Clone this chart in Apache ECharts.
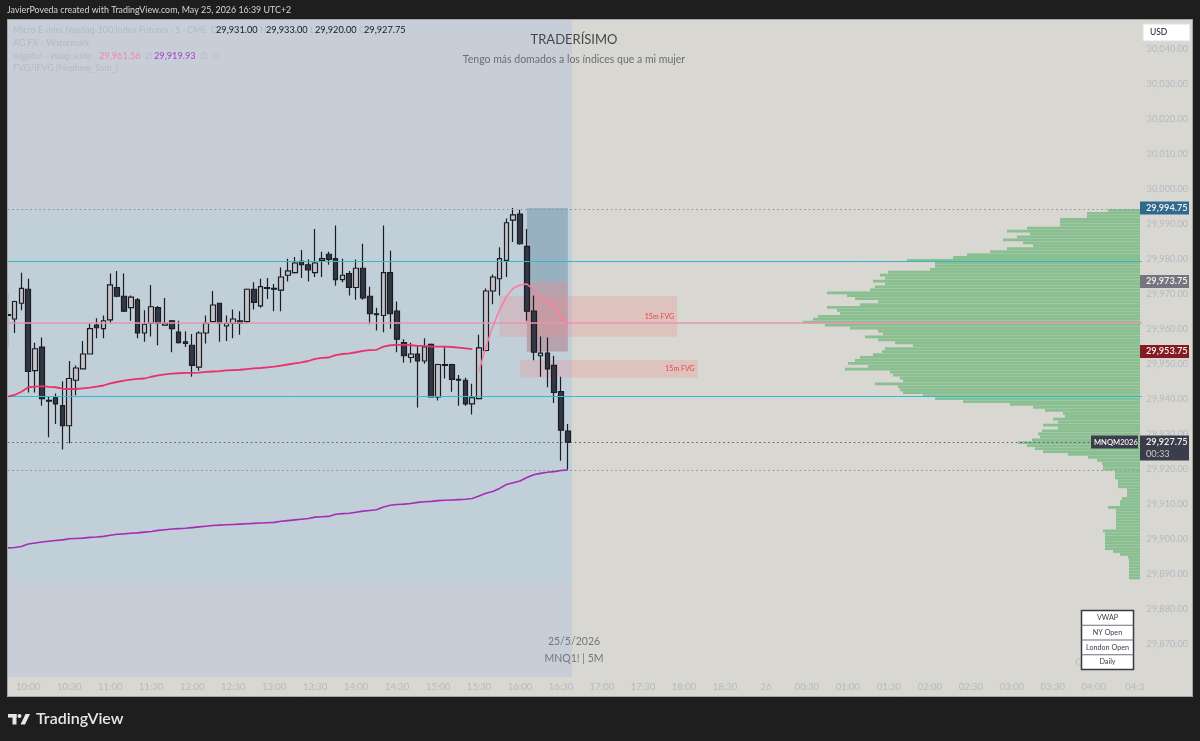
<!DOCTYPE html>
<html>
<head>
<meta charset="utf-8">
<title>MNQ1! 5M</title>
<script src="https://cdn.jsdelivr.net/npm/echarts@6/dist/echarts.min.js"></script>
<style>
  html, body { margin: 0; padding: 0; background: #1e1e1e; }
  #chart { width: 1200px; height: 741px; }
</style>
</head>
<body>
<div id="chart"></div>
<script>
const tickLabels = ["10:00","10:30","11:00","11:30","12:00","12:30","13:00","13:30","14:00","14:30","15:00","15:30","16:00","16:30","17:00","17:30","18:00","18:30","26","00:30","01:00","01:30","02:00","02:30","03:00","03:30","04:00","04:3"];

const opens = [29964.25,29963,29967.5,29971.5,29948.25,29955,29939.5,29940.5,29938.25,29932.5,29945.5,29948.75,29953,29961.25,29960.25,29962.75,29972,29969.5,29966.25,29968.5,29959,29961.75,29966.25,29961.25,29962.5,29959.25,29956.5,29955.5,29949.25,29959,29962.25,29967.5,29961,29961.75,29962.5,29962.25,29971.5,29966.75,29972,29971.75,29971.25,29975.5,29976.25,29979.5,29978.5,29976.25,29979.75,29981.5,29980.25,29974.25,29976,29972,29977.5,29969.5,29964.5,29964,29976.25,29965.25,29956.25,29952,29953,29951,29955.75,29940.75,29950,29950,29945.75,29945.5,29938.75,29940.25,29954,29971,29974.5,29979.75,29991.25,29993,29983.75,29965.25,29952.5,29953.25,29949.75,29942.25,29931];
const closes = [29964,29968,29971.75,29948,29954.5,29940.25,29939.75,29938.75,29932.5,29946,29949,29953,29960.25,29960.5,29962.5,29972.75,29969.5,29965.25,29969.25,29959,29961.5,29966.5,29961.75,29961.75,29960.25,29956.25,29956,29949.75,29959,29961.75,29967,29961.75,29961.75,29963,29961.75,29971.5,29967.75,29972.25,29971.75,29971.5,29975,29976.75,29979,29978.5,29977,29979,29980.25,29980,29974.25,29975.5,29972,29977.5,29969,29964.5,29964.25,29976.25,29964.5,29957.25,29952.5,29953,29951,29955,29940.75,29950,29949.75,29945.75,29945.5,29938.75,29940.5,29954.75,29971,29975,29980.25,29990.5,29992.75,29984.5,29965.25,29953.5,29953.25,29948.75,29942,29931.25,29927.75];
const lows = [29955,29959,29965.5,29942,29942,29938.25,29929.25,29933,29925.75,29927.5,29941.25,29948.75,29953,29957.5,29957.5,29961.75,29969.25,29965,29962.5,29957.5,29956.5,29958,29955.5,29961.25,29953.5,29956,29955,29946.5,29948.25,29956,29962,29956.5,29956.75,29957.5,29958.5,29961.75,29965.75,29966.25,29968.75,29965.25,29965.25,29973.75,29976,29974.75,29973.75,29975,29975,29978.5,29972.5,29973.5,29969.75,29968.5,29968.5,29961.5,29959.75,29959.25,29960.25,29953.5,29950.5,29950.5,29937.75,29950.25,29940.75,29939.75,29946,29942.25,29938.25,29938.25,29935.75,29940,29953.75,29967.25,29969.75,29975,29985,29984.25,29962.5,29951.25,29946.5,29943.5,29939,29922.5,29920];
const highs = [29970.25,29968.25,29976.25,29974.5,29956.25,29957.75,29941,29941.75,29945.25,29951,29949.75,29956.75,29961.75,29963.25,29964,29976,29976.75,29976,29969.75,29969,29965.5,29972.75,29966.75,29969,29962.75,29962.5,29959.5,29958.75,29959.5,29964,29971,29967.5,29964,29965.75,29965.25,29971.75,29973.5,29974.5,29974.75,29973,29977.75,29980.25,29980.75,29982.75,29980,29988.75,29982.25,29982.25,29989.75,29980.25,29976.75,29980,29984.5,29972.25,29966.25,29989.75,29982.5,29968,29957.25,29956.25,29955.25,29957.5,29956,29950.25,29955,29950.25,29947,29946.25,29944.5,29958.5,29971.75,29975.75,29983.5,29991.75,29994.75,29994.25,29988.75,29969.75,29958,29957.75,29952.5,29946.5,29933];

const nyVwap = [29940.8,29941.3,29942.2,29943.5,29943.7,29943.8,29943.6,29943.5,29943.1,29943,29943,29943.2,29943.4,29943.7,29944,29944.6,29945,29945.4,29945.7,29945.9,29946,29946.5,29946.9,29947.2,29947.4,29947.5,29947.6,29947.6,29947.7,29947.9,29948,29948.1,29948.3,29948.4,29948.5,29948.7,29948.9,29949,29949.2,29949.4,29949.7,29950,29950.3,29950.6,29951,29951.6,29951.9,29952,29952.7,29953,29953.2,29953.5,29953.9,29954.1,29954.2,29955.1,29955.5,29955.6,29955.6,29955.5,29955.3,29955.3,29955.1,29955.1,29955.1,29955,29954.8,29954.6,29954.4];
const sessionVwap = [29948.1,29955.1,29960.8,29965.6,29969.4,29971.8,29972.7,29973,29971.3,29969.4,29968.1,29966.9,29963.4,29961.6];
const sessionVwapStart = 69;
const dailyVwap = [29897.6,29897.7,29898,29898.7,29899,29899.3,29899.5,29899.7,29899.9,29900.2,29900.3,29900.4,29900.6,29900.7,29900.9,29901.2,29901.5,29901.6,29901.8,29901.9,29902.1,29902.3,29902.6,29902.8,29903,29903.1,29903.2,29903.4,29903.6,29903.8,29904,29904.1,29904.2,29904.3,29904.4,29904.5,29904.6,29904.7,29904.8,29904.9,29905.2,29905.4,29905.6,29905.8,29906,29906.4,29906.5,29906.6,29907.2,29907.4,29907.5,29907.8,29908.1,29908.3,29908.5,29909.3,29909.8,29910,29910.1,29910.3,29910.6,29910.8,29910.9,29911.1,29911.2,29911.3,29911.4,29911.5,29911.7,29912.4,29913.2,29913.7,29914.6,29915.7,29916.2,29916.7,29917.7,29918.5,29918.9,29919.2,29919.4,29919.7,29919.9];

// rows run from the top of the profile to the bottom
const profileVolumes = [32,53,53,80,80,80,113,133,110,123,137,117,107,133,150,173,187,233,205,205,210,252,260,255,267,255,265,270,313,293,285,262,280,313,303,300,322,327,337,315,290,262,257,275,262,245,227,255,258,267,280,285,292,272,295,250,247,240,237,265,242,240,237,217,205,177,130,107,95,77,75,87,82,97,82,98,102,100,108,122,113,105,97,72,52,43,38,37,37,25,25,25,22,22,22,13,13,13,18,20,20,32,24,24,24,24,24,24,24,37,35,35,35,35,35,35,27,20,12,11,11,11,11,11,11,11];

const levels = [
  { value: 29994.5, color: "#8f8f8f", type: [1.5, 3], width: 1 },
  { value: 29979.5, color: "#35b5c9", type: "solid", width: 1 },
  { value: 29961.85, color: "#e795b2", type: "solid", width: 1.5 },
  { value: 29940.9, color: "#25c0d3", type: "solid", width: 1 },
  { value: 29927.75, color: "#55575c", type: [1.5, 3], width: 1 },
  { value: 29919.7, color: "#8f8f8f", type: [1.5, 3], width: 1 },
];

const zones = [
  { from: 76, to: 82, top: 29994.75, bottom: 29973.75, color: "rgba(96,136,162,0.42)" },
  { from: 76, to: 82, top: 29973.75, bottom: 29953.75, color: "rgba(160,78,92,0.34)" },
  { from: 72, to: 98, top: 29969.6, bottom: 29957.9, color: "rgba(236,140,140,0.28)", label: "15m FVG" },
  { from: 75, to: 101, top: 29951.3, bottom: 29946.3, color: "rgba(236,140,140,0.28)", label: "15m FVG" },
];

const priceTags = [
  { price: 29994.75, text: "29,994.75", color: "#2f6a8c" },
  { price: 29973.75, text: "29,973.75", color: "#74757f" },
  { price: 29953.75, text: "29,953.75", color: "#851a22" },
];

const tableRows = ["VWAP", "NY Open", "London Open", "Daily"];

const FONT = "Lato, 'Noto Sans', Arial, sans-serif";
const barCount = 167;
const categories = Array.from({ length: barCount }, (_, i) => String(i));
const tickAt = {};
tickLabels.forEach((label, i) => { tickAt[3 + i * 6] = label; });

function text(x, y, value, color, size, extra = {}) {
  return {
    type: "text", x, y, z: extra.z || 60, silent: true,
    style: {
      text: value, fill: color, fontSize: size, fontFamily: FONT,
      textAlign: extra.align || "left", textVerticalAlign: "middle", fontWeight: extra.weight || 400,
    },
  };
}

function rect(x, y, width, height, fill, z = 0, extra = {}) {
  return { type: "rect", shape: { x, y, width, height }, z, silent: true, style: { fill, ...extra } };
}

function padded(values, start) {
  return Array(start).fill(null).concat(values);
}

function panels() {
  return [
    rect(7, 19, 1186, 678, "#d8d7d1", 0),
    rect(8, 20, 564, 657, "#c8ced8", 0),
    rect(8, 209, 564, 371, "#c1cfd8", 0),
  ];
}

function frame() {
  return [
    rect(0, 0, 1200, 19, "#1e1e1e", 50),
    rect(0, 697, 1200, 44, "#1e1e1e", 50),
    rect(0, 0, 7, 741, "#1e1e1e", 50),
    rect(1193, 0, 7, 741, "#1e1e1e", 50),
    rect(7.5, 19.5, 1185, 677, "none", 51, { stroke: "#a5a5a5", lineWidth: 1 }),
  ];
}

function headerTexts() {
  return [
    text(7, 10.5, "JavierPoveda created with TradingView.com, May 25, 2026 16:39 UTC+2", "#d6d6d6", 8.9),
    text(13, 30.5, "Micro E-mini Nasdaq-100 Index Futures · 5 · CME", "#b4b9c3", 8.9),
    text(211, 30.5, "O", "#b4b9c3", 8.9), text(216, 30.5, "29,931.00", "#131722", 9.2),
    text(260, 30.5, "H", "#b4b9c3", 8.9), text(266, 30.5, "29,933.00", "#131722", 9.2),
    text(310, 30.5, "L", "#b4b9c3", 8.9), text(315, 30.5, "29,920.00", "#131722", 9.2),
    text(359, 30.5, "C", "#b4b9c3", 8.9), text(364, 30.5, "29,927.75", "#131722", 9.2),
    text(13, 43.5, "AG FX - Watermark", "#b4b9c3", 8.9),
    text(13, 56, "edgeful - vwap suite", "#b4b9c3", 8.9),
    text(99, 56, "29,961.56", "#ff7fa8", 9.2),
    text(145, 56, "∅", "#b4b9c3", 8.9),
    text(154, 56, "29,919.93", "#a63cc0", 9.2),
    text(200, 56, "∅", "#b4b9c3", 8.9),
    text(212, 56, "∅", "#b4b9c3", 8.9),
    text(13, 68.5, "FVG/iFVG (Nephew_Sam_)", "#b4b9c3", 8.9),
    text(574, 40, "TRADERÍSIMO", "#46474d", 13, { align: "center" }),
    text(574, 60, "Tengo más domados a los índices que a mi mujer", "#6b6d73", 10.5, { align: "center" }),
    text(574, 642, "25/5/2026", "#74767c", 10.5, { align: "center" }),
    text(574, 659, "MNQ1! | 5M", "#74767c", 10.5, { align: "center" }),
  ];
}

function logo() {
  return [
    rect(8, 714, 8.5, 3.6, "#e6e6e6", 60),
    rect(12.5, 714, 4, 10.5, "#e6e6e6", 60),
    { type: "circle", shape: { cx: 19.5, cy: 716, r: 2 }, z: 60, silent: true, style: { fill: "#e6e6e6" } },
    { type: "polygon", shape: { points: [[25.5, 714], [30, 714], [25, 724.5], [20.5, 724.5]] }, z: 60, silent: true, style: { fill: "#e6e6e6" } },
    text(36, 719, "TradingView", "#e6e6e6", 16, { weight: 600 }),
  ];
}

function usdButton() {
  return [
    rect(1143, 24, 47, 17, "#ffffff", 60, { stroke: "#e0e0e0" }),
    text(1150, 32.5, "USD", "#131722", 8.5, { z: 61 }),
  ];
}

function infoTable() {
  const items = [rect(1081.5, 610.5, 52, 59, "#ffffff", 60, { stroke: "#363a45", lineWidth: 1.5 })];
  tableRows.forEach((row, i) => {
    const y = 610.5 + i * 14.75;
    if (i > 0) items.push(rect(1081.5, y - 0.5, 52, 1, "#6c6f78", 61));
    items.push(text(1107.5, y + 7.4, row, "#3b3d44", 7.2, { align: "center", z: 62 }));
  });
  items.push({ type: "circle", shape: { cx: 1079.5, cy: 662, r: 3.5 }, z: 59, silent: true, style: { fill: "none", stroke: "#bdbdb8" } });
  return items;
}

function priceTagElements(yOf) {
  const items = [];
  priceTags.forEach((tag) => {
    const y = yOf(tag.price);
    items.push(rect(1140, y - 6.5, 49, 13, tag.color, 60));
    items.push(text(1146, y, tag.text, "#f4f4f4", 9.2, { z: 61, weight: 600 }));
  });
  const y = yOf(closes[closes.length - 1]);
  items.push(rect(1140, y - 7, 49, 25, "#3b3d4a", 60));
  items.push(text(1146, y, "29,927.75", "#f4f4f4", 9.2, { z: 61, weight: 600 }));
  items.push(text(1146, y + 12, "00:33", "#c9cacd", 9.2, { z: 61 }));
  items.push(rect(1091, y - 7, 47, 13, "#3b3d4a", 60));
  items.push(text(1094, y, "MNQM2026", "#f4f4f4", 7.6, { z: 61, weight: 600 }));
  return items;
}

const chart = echarts.init(document.getElementById("chart"), null, { renderer: "canvas" });

const option = {
  animation: false,
  backgroundColor: "#1e1e1e",
  tooltip: { show: false },
  grid: [
    { left: 7.8, top: 14.5, width: 1133.8, height: 665 },
    { left: 790, top: 209, width: 350, height: 370.4 },
  ],
  xAxis: [
    {
      type: "category", data: categories, boundaryGap: false, z: 3,
      axisLine: { show: false }, axisTick: { show: false }, splitLine: { show: false },
      axisLabel: {
        interval: (i) => tickAt[i] !== undefined,
        formatter: (value, i) => tickAt[i] || "",
        color: "#b7b9bd", fontSize: 9.5, fontFamily: FONT, margin: 2, hideOverlap: false,
      },
    },
    { type: "value", gridIndex: 1, inverse: true, min: 0, max: 350, show: false },
  ],
  yAxis: [
    {
      type: "value", position: "right", min: 29860, max: 30050, interval: 10, z: 3,
      axisLine: { show: false }, axisTick: { show: false }, splitLine: { show: false },
      axisLabel: {
        showMinLabel: false, showMaxLabel: false, margin: 5,
        color: "#b7b9c0", fontSize: 9.2, fontFamily: FONT,
        formatter: (v) => v.toLocaleString("en-US", { minimumFractionDigits: 2 }),
      },
    },
    { type: "category", gridIndex: 1, inverse: true, data: profileVolumes.map((_, i) => i), show: false },
  ],
  graphic: [...panels(), ...frame(), ...headerTexts(), ...logo(), ...usdButton(), ...infoTable()],
  series: [
    {
      name: "levels", type: "line", data: [], z: 1, silent: true,
      markLine: {
        silent: true, symbol: "none", animation: false,
        label: { show: false },
        data: levels.map((level) => ({
          yAxis: level.value,
          lineStyle: { color: level.color, type: level.type, width: level.width },
        })),
      },
      markArea: {
        silent: true, animation: false,
        data: zones.map((zone) => [
          {
            xAxis: zone.from, yAxis: zone.top, itemStyle: { color: zone.color },
            label: zone.label
              ? { show: true, formatter: zone.label, position: "insideRight", color: "#e8444f", fontSize: 7, fontFamily: FONT, distance: 3 }
              : { show: false },
          },
          { xAxis: zone.to, yAxis: zone.bottom },
        ]),
      },
    },
    {
      name: "profile", type: "bar", xAxisIndex: 1, yAxisIndex: 1, data: profileVolumes, z: 3, silent: true,
      barCategoryGap: "6%",
      itemStyle: { color: "rgba(86,176,102,0.6)" },
    },
    {
      name: "MNQ1!", type: "candlestick", z: 4, silent: true, barWidth: 5.2,
      data: opens.map((open, i) => [open, closes[i], lows[i], highs[i]]),
      itemStyle: {
        color: "#c3c3c8", color0: "#333644",
        borderColor: "#1b1c22", borderColor0: "#1b1c22", borderWidth: 1.2,
      },
    },
    {
      name: "NY VWAP", type: "line", data: nyVwap, z: 5, silent: true, symbol: "none",
      lineStyle: { color: "#e8326e", width: 1.8 },
    },
    {
      name: "Session VWAP", type: "line", data: padded(sessionVwap, sessionVwapStart), z: 5, silent: true, symbol: "none",
      lineStyle: { color: "#ff7aa5", width: 1.5 },
    },
    {
      name: "Daily VWAP", type: "line", data: dailyVwap, z: 5, silent: true, symbol: "none",
      lineStyle: { color: "#a52cb8", width: 1.6 },
    },
  ],
};

chart.setOption(option);
const yOf = (price) => chart.convertToPixel({ yAxisIndex: 0 }, price);
chart.setOption({ graphic: [...option.graphic, ...priceTagElements(yOf)] });
</script>
</body>
</html>
